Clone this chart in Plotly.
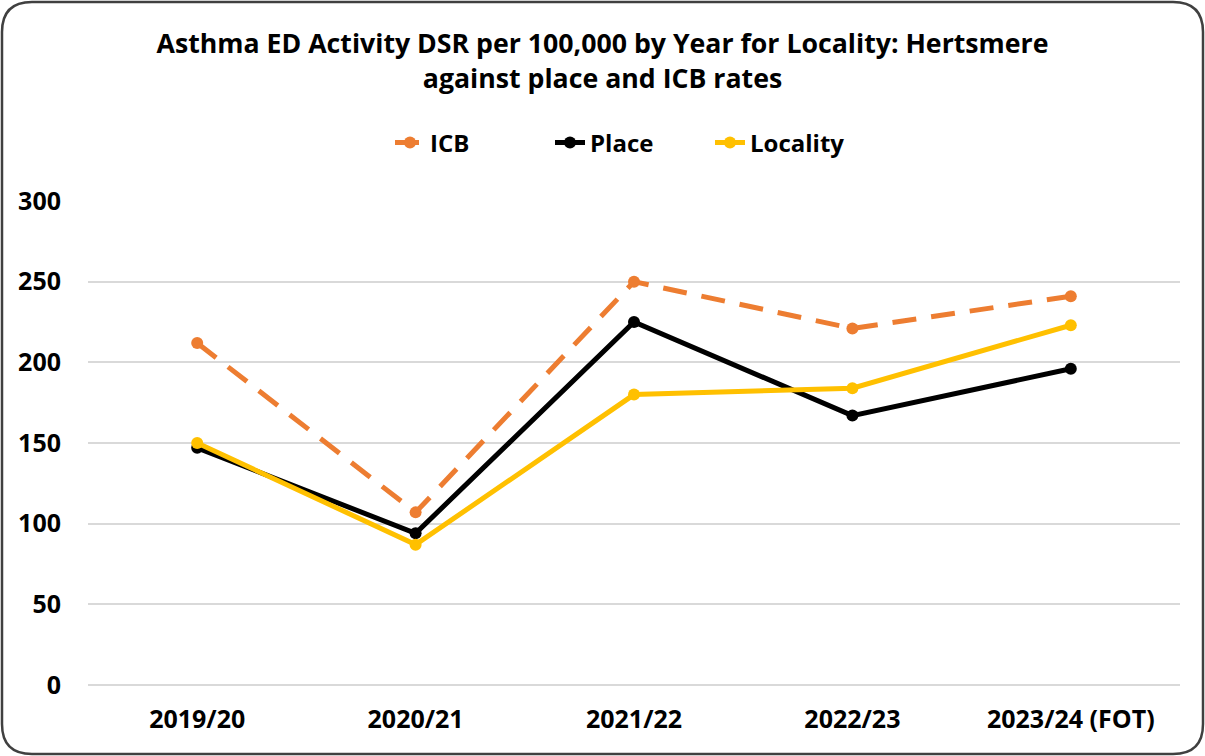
import plotly.graph_objects as go

years = ["2019/20", "2020/21", "2021/22", "2022/23", "2023/24 (FOT)"]
icb = [212, 107, 250, 221, 241]
place = [147, 94, 225, 167, 196]
locality = [150, 87, 180, 184, 223]
yticks = [0, 50, 100, 150, 200, 250, 300]

FONT = "Open Sans"

fig = go.Figure()
fig.add_trace(go.Scatter(x=years, y=icb, name="<b>ICB</b>", mode="lines+markers",
                         line=dict(color="#ED7D31", width=5, dash="24px,15px"),
                         marker=dict(size=12, color="#ED7D31")))
fig.add_trace(go.Scatter(x=years, y=place, name="<b>Place</b>", mode="lines+markers",
                         line=dict(color="#000000", width=5),
                         marker=dict(size=12, color="#000000")))
fig.add_trace(go.Scatter(x=years, y=locality, name="<b>Locality</b>", mode="lines+markers",
                         line=dict(color="#FFC000", width=5),
                         marker=dict(size=12, color="#FFC000")))

L, R, T, B = 88, 1180, 201, 685
W, H = 1205, 756
def px(x):
    return (x - L) / (R - L)
def py(y):
    return (B - y) / (B - T)

x0, x1, y0, y1, r = 2, 1203, 2, 754, 30
path = (f"M {px(x0+r)},{py(y0)} L {px(x1-r)},{py(y0)} Q {px(x1)},{py(y0)} {px(x1)},{py(y0+r)} "
        f"L {px(x1)},{py(y1-r)} Q {px(x1)},{py(y1)} {px(x1-r)},{py(y1)} "
        f"L {px(x0+r)},{py(y1)} Q {px(x0)},{py(y1)} {px(x0)},{py(y1-r)} "
        f"L {px(x0)},{py(y0+r)} Q {px(x0)},{py(y0)} {px(x0+r)},{py(y0)} Z")

fig.update_layout(
    width=W, height=H,
    margin=dict(l=L, r=W - R, t=T, b=H - B),
    paper_bgcolor="white", plot_bgcolor="white",
    font=dict(family=FONT, color="#000000"),
    title=dict(text="<b>Asthma ED Activity DSR per 100,000 by Year for Locality: Hertsmere<br>against place and ICB rates</b>",
               x=0.5, xanchor="center", xref="container",
               y=1 - 53 / H, yanchor="top", yref="container",
               font=dict(size=26.7, family=FONT, color="#000000")),
    legend=dict(orientation="h", x=px(390), xanchor="left", y=py(143), yanchor="middle",
                font=dict(size=24, family=FONT, color="#000000"),
                entrywidth=115, entrywidthmode="pixels",
                bgcolor="rgba(0,0,0,0)"),
    showlegend=True,
    shapes=[dict(type="path", path=path, xref="paper", yref="paper",
                 line=dict(color="#404040", width=2.5), fillcolor="rgba(0,0,0,0)", layer="above")],
)
fig.update_xaxes(range=[-0.5, 4.5], showgrid=False, showline=False, ticks="",
                 tickfont=dict(size=25, family=FONT, color="#000000"),
                 ticklabelstandoff=17,
                 tickmode="array", tickvals=years, ticktext=[f"<b>{y}</b>" for y in years])
fig.update_yaxes(range=[0, 300], showgrid=True, gridcolor="#D9D9D9", gridwidth=2,
                 zeroline=True, zerolinecolor="#D9D9D9", zerolinewidth=2,
                 showline=False, ticks="", tickfont=dict(size=25, family=FONT, color="#000000"),
                 ticklabelstandoff=26,
                 tickmode="array", tickvals=yticks, ticktext=[f"<b>{v}</b>" for v in yticks])

fig.write_html("out.html", config={"displayModeBar": False},
               post_script="document.body.style.margin='0';document.body.style.overflow='hidden';")
